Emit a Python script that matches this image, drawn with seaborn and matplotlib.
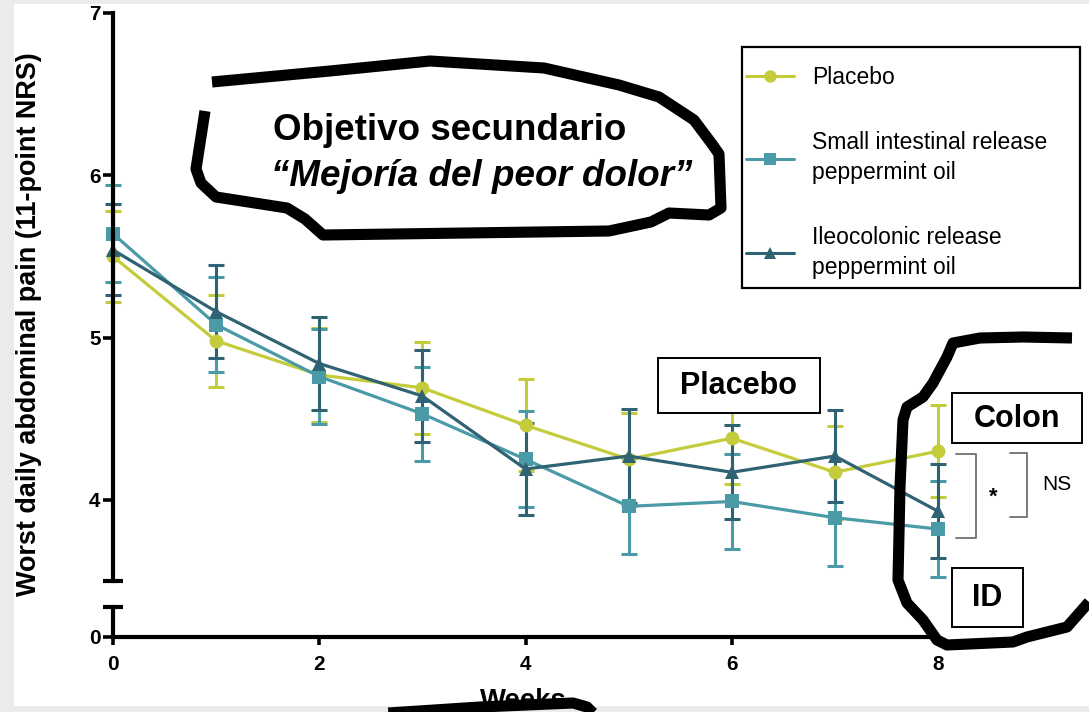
import numpy as np
import pandas as pd
import matplotlib
matplotlib.use("Agg")
import matplotlib.pyplot as plt
from matplotlib import font_manager
from matplotlib.lines import Line2D
from matplotlib.patches import Rectangle
import seaborn as sns

# ---- data -----------------------------------------------------------
weeks = [0, 1, 2, 3, 4, 5, 6, 7, 8]
groups = ["Placebo",
          "Small intestinal release\npeppermint oil",
          "Ileocolonic release\npeppermint oil"]
placebo = [5.50, 4.98, 4.77, 4.69, 4.46, 4.25, 4.38, 4.17, 4.30]
small_int = [5.64, 5.08, 4.76, 4.53, 4.25, 3.96, 3.99, 3.89, 3.82]
ileocolonic = [5.54, 5.16, 4.84, 4.64, 4.19, 4.27, 4.17, 4.27, 3.93]
placebo_sem = [0.28, 0.285, 0.29, 0.285, 0.285, 0.285, 0.283, 0.285, 0.285]
small_int_sem = [0.30, 0.295, 0.29, 0.29, 0.295, 0.295, 0.29, 0.295, 0.295]
ileocolonic_sem = [0.28, 0.285, 0.285, 0.285, 0.285, 0.29, 0.29, 0.285, 0.29]
y_ticks = [4, 5, 6, 7]
x_ticks = [0, 2, 4, 6, 8]

colors = ["#C4CC3C", "#4A9AA8", "#2F6374"]
markers = ["o", "s", "^"]

df = pd.DataFrame({
    "week": weeks * 3,
    "pain": placebo + small_int + ileocolonic,
    "group": [g for g in groups for _ in weeks],
})
sems = [placebo_sem, small_int_sem, ileocolonic_sem]
means = [placebo, small_int, ileocolonic]

# ---- figure ---------------------------------------------------------
W, H = 1089, 712
sns.set_theme(style="white")
plt.rcParams["font.family"] = ["Liberation Sans", "DejaVu Sans"]
plt.rcParams["text.color"] = "black"
plt.rcParams["axes.labelcolor"] = "black"
plt.rcParams["xtick.color"] = "black"
plt.rcParams["ytick.color"] = "black"

installed = {f.name for f in font_manager.fontManager.ttflist}
NARROW = ["Liberation Sans Narrow"] if "Liberation Sans Narrow" in installed \
    else ["Liberation Sans"]
NARROW = NARROW + ["DejaVu Sans"]
narrow_scale = 1.0 if NARROW[0] == "Liberation Sans Narrow" else 0.9

fig = plt.figure(figsize=(W / 100, H / 100), dpi=100)
fig.patch.set_facecolor("#ebebeb")


def fx(x):
    return x / W


def fy(y):
    return 1 - y / H


# white page area
fig.patches.append(Rectangle((fx(14), fy(706)), fx(W) - fx(14), fy(4) - fy(706),
                             transform=fig.transFigure, facecolor="white",
                             edgecolor="none", zorder=-5))

left, right = fx(113), fx(938)
ax = fig.add_axes([left, fy(581), right - left, fy(13) - fy(581)])
axb = fig.add_axes([left, fy(637), right - left, fy(607) - fy(637)])
for a in (ax, axb):
    a.set_facecolor("none")
    a.set_xlim(0, 8)

sns.lineplot(data=df, x="week", y="pain", hue="group", style="group",
             palette=dict(zip(groups, colors)),
             markers=dict(zip(groups, markers)), dashes=False,
             linewidth=2.3, markersize=10, markeredgewidth=0,
             errorbar=None, legend=False, ax=ax)
for g, m, s, c in zip(groups, means, sems, colors):
    eb = ax.errorbar(weeks, m, yerr=s, fmt="none", ecolor=c, elinewidth=2.2,
                     capsize=6, capthick=2.2, zorder=1)
    for art in eb.lines[1] + eb.lines[2]:
        art.set_clip_on(False)
for ln in ax.lines:
    ln.set_clip_on(False)

# upper (broken) axis
ax.set_ylim(3.5, 7)
ax.set_yticks(y_ticks)
ax.set_yticklabels([str(t) for t in y_ticks])
ax.set_xticks([])
ax.set_xlabel("")
ax.set_ylabel("")
for sp in ("top", "right", "bottom"):
    ax.spines[sp].set_visible(False)
ax.spines["left"].set_linewidth(3)
ax.spines["left"].set_color("black")
ax.tick_params(axis="y", direction="out", length=7, width=2.6, color="black",
               left=True, pad=2)
ax.plot([0], [0], transform=ax.transAxes, marker="_", ms=15, mew=3,
        color="black", clip_on=False)

# lower segment with the zero baseline
axb.set_ylim(0, 0.184)
axb.set_yticks([0])
axb.set_yticklabels(["0"])
axb.set_xticks(x_ticks)
axb.set_xticklabels([str(t) for t in x_ticks])
for sp in ("top", "right"):
    axb.spines[sp].set_visible(False)
for sp in ("left", "bottom"):
    axb.spines[sp].set_linewidth(3)
    axb.spines[sp].set_color("black")
axb.tick_params(axis="y", direction="out", length=7, width=2.6, color="black",
                left=True, pad=2)
axb.tick_params(axis="x", direction="out", length=6, width=2.6, color="black",
                bottom=True, pad=7)
axb.plot([0], [1], transform=axb.transAxes, marker="_", ms=15, mew=3,
         color="black", clip_on=False)

for a in (ax, axb):
    for lab in a.get_yticklabels() + a.get_xticklabels():
        lab.set_fontfamily(NARROW)
        lab.set_fontweight("bold")
        lab.set_fontsize(16.5 * narrow_scale)

fig.text(fx(29), fy(324), "Worst daily abdominal pain (11-point NRS)",
         rotation=90, ha="center", va="center", fontsize=21.6 * narrow_scale,
         fontweight="bold", family=NARROW)
fig.text(fx(523), fy(701), "Weeks", ha="center", va="center",
         fontsize=22 * narrow_scale, fontweight="bold", family=NARROW)

# ---- overlay for callouts and markup --------------------------------
ov = fig.add_axes([0, 0, 1, 1], zorder=5)
ov.set_xlim(0, W)
ov.set_ylim(H, 0)
ov.axis("off")
ov.patch.set_visible(False)

# legend
frame = Rectangle((742, 47), 1080 - 742, 288 - 47, facecolor="white",
                  edgecolor="black", linewidth=1.6)
ov.add_patch(frame)
handles = [Line2D([], [], color=c, marker=m, markersize=9, linewidth=2.2,
                  markeredgewidth=0) for c, m in zip(colors, markers)]
leg = ov.legend(handles, groups, loc="upper left",
                bbox_to_anchor=(fx(746), fy(66)), bbox_transform=fig.transFigure,
                frameon=False, fontsize=16.5, borderpad=0, borderaxespad=0,
                handlelength=2.1, handletextpad=0.8, labelspacing=1.85)
for t in leg.get_texts():
    t.set_color("black")
    t.set_linespacing(1.36)

# headline callout
ov.text(273, 140, "Objetivo secundario", fontsize=26.5, fontweight="bold",
        ha="left", va="baseline")
ov.text(271, 186, "\u201cMejoría del peor dolor\u201d", fontsize=26.5,
        fontweight="bold", fontstyle="italic", ha="left", va="baseline")

scribble_top = [(212, 82), (330, 71), (430, 61), (544, 68), (619, 85),
                (659, 97), (694, 120), (712, 144), (719, 154), (721, 208),
                (709, 215), (669, 213), (651, 222), (609, 231), (323, 235),
                (305, 219), (287, 208), (216, 197), (201, 183), (196, 169),
                (205, 111)]
scribble_right = [(1072, 338), (1023, 337), (980, 338), (953, 343),
                  (947, 357), (933, 383), (923, 397), (907, 407), (903, 420),
                  (900, 487), (898, 580), (907, 603), (923, 620), (937, 640),
                  (947, 645), (1013, 642), (1027, 637), (1067, 627),
                  (1089, 602)]
scribble_bottom = [(373, 714), (480, 707), (573, 703), (587, 707), (594, 714)]
for pts in (scribble_top, scribble_right, scribble_bottom):
    xs, ys = zip(*pts)
    ov.plot(xs, ys, color="black", lw=8, solid_capstyle="butt",
            solid_joinstyle="round", clip_on=False)

# group labels in boxes
for (x0, y0, x1, y1), txt in [((658, 358, 820, 413), "Placebo"),
                              ((952, 393, 1082, 443), "Colon"),
                              ((952, 568, 1023, 627), "ID")]:
    ov.add_patch(Rectangle((x0, y0), x1 - x0, y1 - y0, facecolor="white",
                           edgecolor="black", linewidth=1.4))
    ov.text((x0 + x1) / 2, (y0 + y1) / 2 + 1, txt, fontsize=22,
            fontweight="bold", ha="center", va="center")

# significance brackets
ov.plot([956, 976, 976, 956], [454, 454, 538, 538], color="#707070", lw=1.3)
ov.plot([1010, 1027, 1027, 1010], [453, 453, 517, 517], color="#707070", lw=1.3)
ov.text(993, 497, "*", fontsize=16, fontweight="bold", ha="center", va="center")
ov.text(1057, 484, "NS", fontsize=15, ha="center", va="center")

fig.savefig("out.png", dpi=100, facecolor=fig.get_facecolor())
